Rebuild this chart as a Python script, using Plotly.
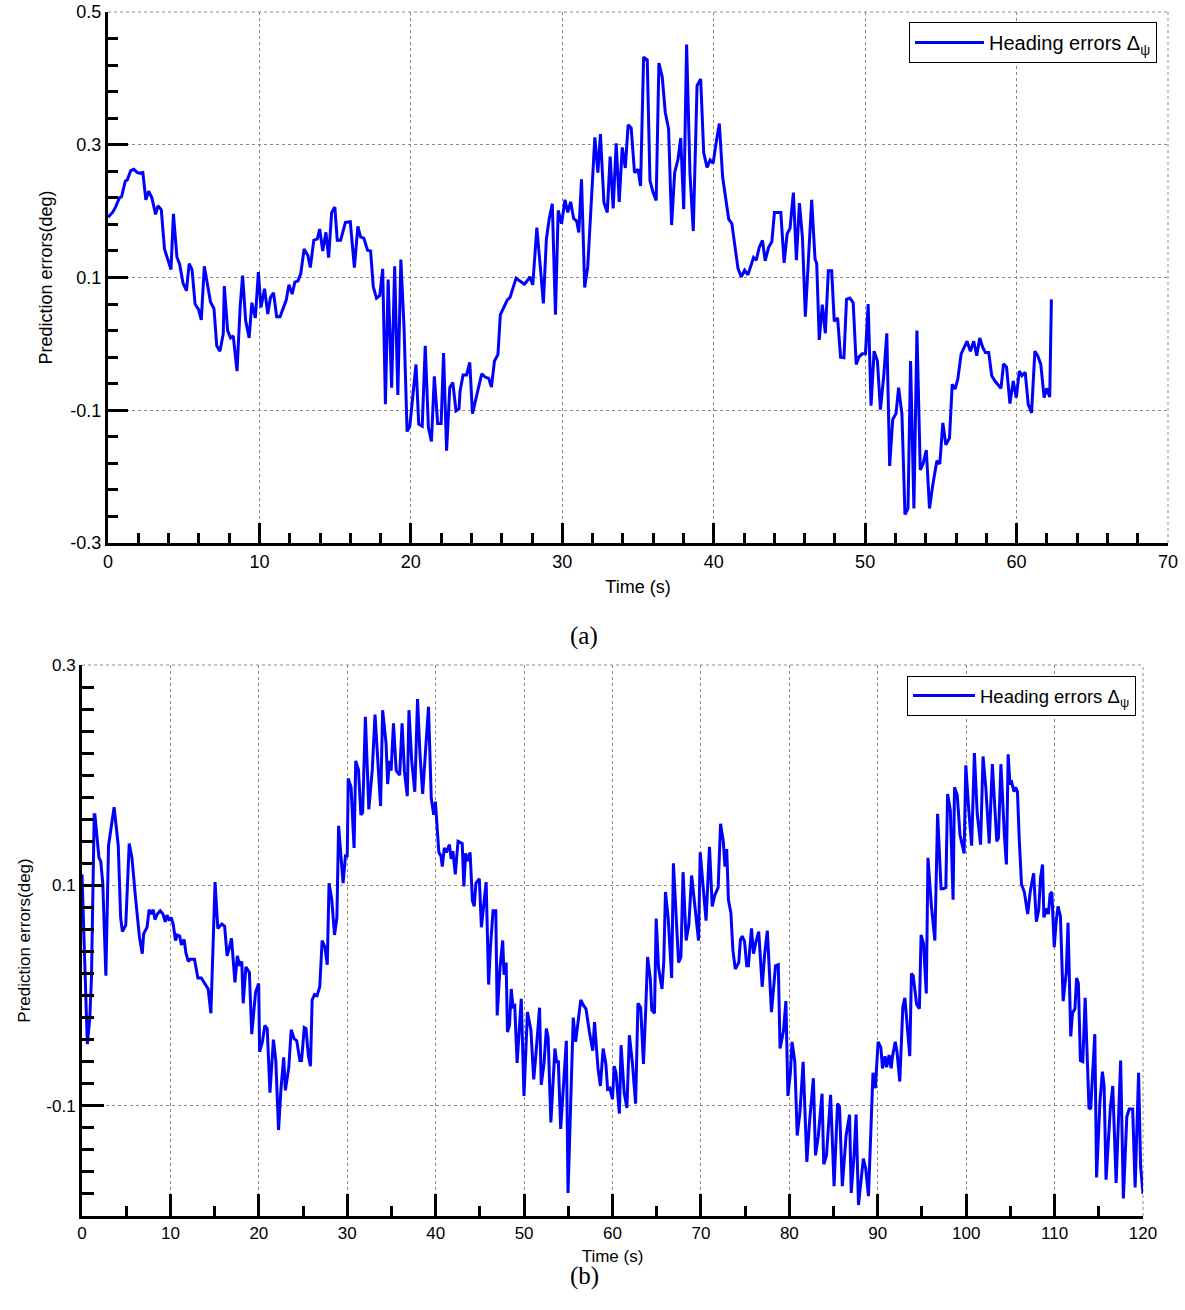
import plotly.graph_objects as go

# ---------------- data: panel (a) ----------------
time_a = [0, 0.3, 0.5, 0.75, 0.9, 1.14, 1.27, 1.5, 1.7, 1.95, 2.1, 2.3, 2.5, 2.68, 2.9, 3.14, 3.3, 3.52,
          3.73, 3.93, 4.16, 4.32, 4.55, 4.73, 4.95, 5.18, 5.36, 5.55, 5.75, 5.98, 6.16, 6.36, 6.59, 6.77,
          7.0, 7.18, 7.39, 7.61, 7.68, 7.9, 8.09, 8.27, 8.52, 8.73, 8.89, 9.09, 9.32, 9.5, 9.73, 9.93,
          10.1, 10.34, 10.55, 10.73, 10.93, 11.14, 11.36, 11.77, 11.95, 12.16, 12.34, 12.55, 12.73, 12.95,
          13.2, 13.36, 13.59, 13.82, 13.98, 14.18, 14.39, 14.57, 14.77, 14.98, 15.14, 15.36, 15.68, 16.0,
          16.27, 16.5, 16.68, 16.9, 17.14, 17.34, 17.52, 17.73, 17.95, 18.14, 18.32, 18.5, 18.73, 18.93,
          19.14, 19.34, 19.55, 19.75, 19.93, 20.14, 20.34, 20.52, 20.75, 20.95, 21.16, 21.36, 21.55, 21.77,
          22.0, 22.16, 22.36, 22.57, 22.77, 22.98, 23.18, 23.25, 23.45, 23.68, 23.89, 24.07, 24.27, 24.68,
          24.91, 25.14, 25.32, 25.52, 25.75, 25.91, 26.14, 26.36, 26.55, 26.77, 26.95, 27.18, 27.5, 27.68,
          27.86, 28.05, 28.32, 28.59, 28.75, 28.95, 29.14, 29.34, 29.55, 29.73, 29.95, 30.18, 30.36, 30.55,
          30.75, 30.95, 31.09, 31.27, 31.48, 31.68, 31.89, 32.15, 32.35, 32.52, 32.75, 32.97, 33.16, 33.36,
          33.56, 33.76, 33.96, 34.16, 34.35, 34.55, 34.77, 35.0, 35.17, 35.37, 35.61, 35.79, 36.0, 36.2,
          36.38, 36.6, 36.8, 37.02, 37.22, 37.42, 37.64, 37.82, 38.02, 38.21, 38.43, 38.65, 38.9, 39.14,
          39.34, 39.56, 39.76, 39.96, 40.18, 40.37, 40.59, 40.99, 41.2, 41.43, 41.6, 41.82, 42.04, 42.26,
          42.63, 42.81, 43.0, 43.22, 43.4, 43.62, 43.84, 44.01, 44.43, 44.65, 44.85, 45.04, 45.26, 45.46,
          45.66, 45.86, 46.05, 46.25, 46.47, 46.69, 46.8, 46.97, 47.17, 47.37, 47.57, 47.79, 47.96, 48.18,
          48.38, 48.6, 48.77, 48.99, 49.21, 49.41, 49.58, 49.8, 50.02, 50.2, 50.39, 50.59, 50.81, 51.01,
          51.23, 51.43, 51.62, 51.82, 52.04, 52.21, 52.43, 52.63, 52.83, 53.0, 53.22, 53.42, 53.64, 53.82,
          54.04, 54.25, 54.47, 54.74, 54.93, 55.13, 55.33, 55.57, 55.75, 55.94, 56.12, 56.34, 56.56, 56.73,
          56.95, 57.17, 57.37, 57.57, 57.76, 57.94, 58.16, 58.36, 58.57, 58.77, 58.97, 59.14, 59.34, 59.56,
          59.78, 59.98, 60.18, 60.35, 60.57, 60.77, 60.99, 61.21, 61.4, 61.6, 61.82, 61.99, 62.19, 62.3]
err_a = [0.191, 0.198, 0.206, 0.220, 0.222, 0.245, 0.247, 0.261, 0.263, 0.258, 0.257, 0.258, 0.217, 0.230,
         0.220, 0.195, 0.208, 0.202, 0.143, 0.130, 0.112, 0.196, 0.131, 0.120, 0.092, 0.080, 0.121, 0.112,
         0.060, 0.052, 0.036, 0.117, 0.090, 0.063, 0.053, -0.003, -0.011, 0.015, 0.087, 0.020, 0.009, 0.012,
         -0.041, 0.057, 0.103, 0.035, 0.009, 0.062, 0.039, 0.108, 0.055, 0.083, 0.045, 0.070, 0.077, 0.041,
         0.041, 0.066, 0.089, 0.075, 0.093, 0.095, 0.106, 0.143, 0.133, 0.115, 0.156, 0.158, 0.173, 0.140,
         0.168, 0.130, 0.198, 0.206, 0.156, 0.156, 0.183, 0.184, 0.115, 0.177, 0.161, 0.159, 0.141, 0.140,
         0.086, 0.069, 0.073, 0.113, -0.091, 0.097, -0.066, 0.117, -0.077, 0.127, 0.025, -0.132, -0.124,
         -0.077, -0.031, -0.121, -0.124, -0.003, -0.126, -0.147, -0.049, -0.120, -0.120, -0.014, -0.161,
         -0.066, -0.058, -0.101, -0.098, -0.071, -0.047, -0.047, -0.028, -0.105, -0.086, -0.045, -0.050,
         -0.052, -0.065, -0.026, -0.016, 0.044, 0.055, 0.066, 0.070, 0.087, 0.099, 0.095, 0.090, 0.095,
         0.101, 0.089, 0.175, 0.105, 0.061, 0.158, 0.189, 0.211, 0.044, 0.201, 0.181, 0.217, 0.198, 0.214,
         0.189, 0.185, 0.168, 0.248, 0.085, 0.116, 0.206, 0.311, 0.258, 0.316, 0.213, 0.198, 0.282, 0.204,
         0.302, 0.214, 0.296, 0.265, 0.330, 0.325, 0.258, 0.263, 0.238, 0.432, 0.428, 0.246, 0.228, 0.216,
         0.423, 0.402, 0.349, 0.324, 0.179, 0.258, 0.278, 0.310, 0.203, 0.451, 0.258, 0.170, 0.389, 0.399,
         0.288, 0.266, 0.277, 0.272, 0.306, 0.332, 0.251, 0.188, 0.181, 0.145, 0.114, 0.101, 0.111, 0.104,
         0.130, 0.126, 0.145, 0.156, 0.125, 0.145, 0.154, 0.198, 0.198, 0.122, 0.166, 0.174, 0.228, 0.126,
         0.212, 0.160, 0.041, 0.125, 0.217, 0.128, 0.121, 0.006, 0.059, 0.016, 0.110, 0.110, 0.034, 0.039,
         -0.020, -0.021, 0.067, 0.069, 0.062, -0.031, -0.020, -0.015, -0.015, 0.060, -0.093, -0.011, -0.026,
         -0.099, -0.048, 0.016, -0.184, -0.114, -0.105, -0.066, -0.106, -0.257, -0.248, -0.026, -0.248,
         0.020, -0.190, -0.181, -0.160, -0.248, -0.212, -0.176, -0.181, -0.119, -0.152, -0.142, -0.061,
         -0.068, -0.053, -0.015, -0.003, 0.004, -0.011, 0.004, -0.018, 0.009, -0.005, -0.013, -0.013, -0.048,
         -0.056, -0.062, -0.067, -0.030, -0.035, -0.090, -0.056, -0.081, -0.041, -0.048, -0.043, -0.091,
         -0.104, -0.011, -0.018, -0.031, -0.081, -0.067, -0.080, 0.067]

# ---------------- data: panel (b) ----------------
time_b = [0, 0.6, 0.88, 1.07, 1.38, 1.46, 1.92, 2.12, 2.35, 2.7, 3.0, 3.28, 3.63, 4.1, 4.37, 4.57, 4.95,
          5.34, 5.65, 6.04, 6.5, 6.82, 6.97, 7.36, 7.59, 7.83, 8.06, 8.25, 8.52, 8.84, 9.15, 9.42, 9.61,
          9.88, 10.08, 10.31, 10.58, 10.78, 11.05, 11.24, 11.55, 11.75, 12.02, 12.25, 12.72, 13.11, 13.5,
          13.88, 14.27, 14.58, 15.05, 15.36, 15.82, 16.13, 16.41, 16.68, 16.91, 17.3, 17.57, 17.84, 18.07,
          18.23, 18.54, 18.93, 19.2, 19.63, 19.98, 20.09, 20.4, 20.68, 20.95, 21.26, 21.65, 21.92, 22.23,
          22.5, 22.81, 23.0, 23.39, 23.66, 23.98, 24.29, 24.64, 24.83, 25.14, 25.33, 25.61, 25.84, 26.03,
          26.3, 26.58, 26.89, 27.16, 27.47, 27.74, 27.94, 28.25, 28.56, 28.83, 29.02, 29.29, 29.53, 29.8,
          30.0, 30.11, 30.43, 30.77, 30.96, 31.27, 31.54, 31.74, 32.05, 32.44, 32.83, 33.14, 33.45, 33.77,
          34.0, 34.39, 34.57, 34.77, 34.96, 35.23, 35.54, 35.93, 36.2, 36.47, 36.79, 36.98, 37.29, 37.64,
          37.95, 38.22, 38.53, 38.8, 39.19, 39.5, 39.78, 39.97, 40.36, 40.59, 40.75, 40.98, 41.21, 41.56,
          41.75, 41.95, 42.22, 42.53, 43.0, 43.19, 43.39, 43.66, 43.89, 44.16, 44.36, 44.55, 44.94, 45.17,
          45.4, 45.71, 45.99, 46.18, 46.49, 46.8, 46.96, 47.27, 47.58, 47.73, 47.97, 48.12, 48.35, 48.55,
          48.74, 48.94, 49.21, 49.68, 49.99, 50.38, 50.77, 51.09, 51.36, 51.75, 51.94, 52.25, 52.52, 52.72,
          53.03, 53.49, 53.69, 53.87, 54.14, 54.46, 54.78, 54.97, 55.24, 55.56, 55.83, 56.14, 56.41, 56.72,
          57.0, 57.39, 57.77, 57.97, 58.36, 58.63, 58.94, 59.25, 59.45, 59.7, 60.0, 60.19, 60.39, 60.78,
          60.97, 61.32, 61.63, 61.91, 62.26, 62.61, 62.88, 63.19, 63.5, 63.74, 63.97, 64.28, 64.44, 64.75,
          64.94, 65.21, 65.6, 65.8, 65.99, 66.3, 66.69, 66.89, 67.16, 67.47, 67.74, 67.98, 68.33, 68.64,
          68.95, 69.34, 69.73, 69.92, 70.27, 70.58, 70.97, 71.28, 71.56, 71.95, 72.22, 72.53, 72.72, 72.92,
          73.11, 73.39, 73.62, 73.89, 74.28, 74.47, 74.67, 74.94, 75.18, 75.37, 75.72, 75.95, 76.23, 76.54,
          76.93, 77.2, 77.51, 77.98, 78.44, 78.75, 78.95, 79.34, 79.61, 79.84, 80.12, 80.31, 80.62, 80.89,
          81.21, 81.56, 81.98, 82.26, 82.72, 82.96, 83.27, 83.7, 83.89, 84.2, 84.67, 85.06, 85.45, 85.68,
          85.99, 86.42, 86.81, 87.0, 87.32, 87.55, 87.82, 88.37, 88.64, 88.95, 89.46, 89.73, 90.04, 90.35,
          90.54, 90.82, 91.01, 91.28, 91.52, 91.67, 91.98, 92.18, 92.49, 92.84, 93.07, 93.35, 93.62, 93.81,
          94.01, 94.4, 94.71, 94.9, 95.18, 95.49, 95.68, 96.07, 96.46, 96.77, 97.16, 97.43, 97.7, 97.9,
          98.21, 98.52, 98.68, 98.99, 99.3, 99.77, 99.96, 100.27, 100.62, 100.93, 101.25, 101.63, 101.91,
          102.22, 102.61, 102.96, 103.27, 103.46, 103.65, 103.93, 104.32, 104.55, 104.75, 104.94, 105.14,
          105.41, 105.6, 105.8, 105.99, 106.26, 106.58, 106.96, 107.24, 107.63, 107.94, 108.21, 108.41,
          108.64, 108.79, 109.11, 109.3, 109.49, 109.69, 109.96, 110.19, 110.39, 110.66, 110.97, 111.32,
          111.52, 111.83, 112.02, 112.3, 112.49, 112.69, 112.92, 113.19, 113.46, 113.89, 114.08, 114.55,
          114.75, 115.14, 115.41, 115.6, 115.82, 116.3, 116.58, 116.96, 117.28, 117.47, 117.78, 118.17,
          118.44, 118.83, 119.11, 119.5, 119.73, 120.0]
err_b = [0.110, -0.044, -0.021, 0.016, 0.164, 0.164, 0.125, 0.122, 0.102, 0.018, 0.136, 0.151, 0.171,
         0.136, 0.071, 0.058, 0.064, 0.138, 0.125, 0.090, 0.053, 0.038, 0.056, 0.062, 0.078, 0.074, 0.078,
         0.069, 0.074, 0.077, 0.074, 0.067, 0.073, 0.068, 0.071, 0.065, 0.050, 0.055, 0.054, 0.046, 0.051,
         0.039, 0.031, 0.033, 0.033, 0.016, 0.016, 0.011, 0.006, -0.016, 0.103, 0.061, 0.065, 0.063, 0.036,
         0.044, 0.052, 0.012, 0.036, 0.027, 0.031, -0.007, 0.026, 0.021, -0.035, 0.003, 0.011, -0.051,
         -0.042, -0.027, -0.030, -0.088, -0.040, -0.059, -0.122, -0.085, -0.056, -0.086, -0.065, -0.031,
         -0.039, -0.041, -0.059, -0.059, -0.029, -0.030, -0.055, -0.064, -0.004, 0.001, 0.000, 0.008, 0.050,
         0.044, 0.028, 0.102, 0.087, 0.055, 0.071, 0.154, 0.121, 0.102, 0.127, 0.127, 0.197, 0.189, 0.134,
         0.213, 0.205, 0.164, 0.166, 0.253, 0.169, 0.205, 0.255, 0.210, 0.172, 0.259, 0.229, 0.192, 0.213,
         0.204, 0.247, 0.204, 0.200, 0.247, 0.203, 0.181, 0.259, 0.213, 0.185, 0.269, 0.220, 0.183, 0.216,
         0.262, 0.179, 0.164, 0.176, 0.130, 0.127, 0.117, 0.134, 0.130, 0.137, 0.124, 0.131, 0.110, 0.140,
         0.138, 0.099, 0.129, 0.122, 0.130, 0.086, 0.081, 0.102, 0.106, 0.062, 0.079, 0.103, 0.010, 0.042,
         0.077, 0.077, -0.018, 0.025, 0.050, 0.019, 0.030, -0.033, -0.027, 0.006, -0.010, -0.009, -0.061,
         -0.003, -0.091, -0.015, -0.031, -0.076, -0.051, -0.011, -0.081, -0.062, -0.030, -0.038, -0.115,
         -0.048, -0.061, -0.059, -0.121, -0.078, -0.041, -0.179, -0.113, -0.020, -0.042, -0.021, -0.004,
         -0.009, -0.012, -0.033, -0.050, -0.024, -0.066, -0.082, -0.048, -0.062, -0.085, -0.084, -0.094,
         -0.064, -0.070, -0.107, -0.045, -0.088, -0.102, -0.036, -0.062, -0.098, -0.007, -0.011, -0.062,
         -0.016, 0.035, 0.015, -0.013, -0.016, 0.070, 0.025, 0.006, 0.031, 0.094, 0.070, 0.016, 0.120,
         0.078, 0.030, 0.035, 0.112, 0.050, 0.065, 0.109, 0.081, 0.050, 0.130, 0.096, 0.068, 0.135, 0.081,
         0.091, 0.098, 0.156, 0.140, 0.117, 0.133, 0.087, 0.075, 0.041, 0.024, 0.030, 0.051, 0.054, 0.049,
         0.027, 0.027, 0.061, 0.038, 0.049, 0.058, 0.008, 0.037, 0.059, -0.015, 0.027, 0.028, -0.048,
         -0.032, -0.005, -0.091, -0.070, -0.042, -0.060, -0.127, -0.105, -0.060, -0.151, -0.117, -0.075,
         -0.145, -0.128, -0.089, -0.153, -0.145, -0.090, -0.173, -0.098, -0.101, -0.173, -0.127, -0.108,
         -0.179, -0.145, -0.108, -0.190, -0.148, -0.157, -0.182, -0.070, -0.084, -0.042, -0.047, -0.066,
         -0.055, -0.065, -0.054, -0.066, -0.055, -0.042, -0.051, -0.078, -0.010, -0.002, -0.031, -0.055,
         0.020, 0.018, -0.008, -0.012, 0.055, 0.047, 0.002, 0.125, 0.081, 0.050, 0.165, 0.097, 0.097, 0.098,
         0.183, 0.168, 0.087, 0.189, 0.182, 0.146, 0.129, 0.209, 0.171, 0.136, 0.220, 0.165, 0.137, 0.217,
         0.189, 0.138, 0.210, 0.168, 0.140, 0.143, 0.210, 0.146, 0.119, 0.219, 0.193, 0.194, 0.185, 0.189,
         0.185, 0.144, 0.101, 0.094, 0.074, 0.094, 0.111, 0.067, 0.078, 0.107, 0.119, 0.071, 0.079, 0.074,
         0.092, 0.094, 0.044, 0.068, 0.081, 0.072, -0.005, 0.021, 0.066, -0.037, -0.016, -0.012, 0.016,
         0.011, -0.059, -0.060, -0.002, -0.102, -0.103, -0.035, -0.165, -0.095, -0.069, -0.082, -0.167,
         -0.103, -0.082, -0.170, -0.097, -0.059, -0.184, -0.110, -0.103, -0.103, -0.174, -0.070, -0.155,
         -0.180]

# tick labels
xticks_a = [0, 10, 20, 30, 40, 50, 60, 70]
yticks_a = [-0.3, -0.1, 0.1, 0.3, 0.5]
xticks_b = [0, 10, 20, 30, 40, 50, 60, 70, 80, 90, 100, 110, 120]
yticks_b = [-0.1, 0.1, 0.3]

W, H = 1185, 1310
FONT = "Liberation Sans, Arial, sans-serif"
BLUE = "#0000FF"
GRID = "#8a8a8a"

fig = go.Figure()
fig.add_trace(go.Scatter(x=time_a, y=err_a, mode="lines", line=dict(color=BLUE, width=3),
                         name="Heading errors Δ<sub>ψ</sub>", xaxis="x", yaxis="y", legend="legend"))
fig.add_trace(go.Scatter(x=time_b, y=err_b, mode="lines", line=dict(color=BLUE, width=3),
                         name="Heading errors Δ<sub>ψ</sub>", xaxis="x2", yaxis="y2", legend="legend2"))


def xa(px0, px1):
    return [px0 / W, px1 / W]


def ya(py_top, py_bot):
    return [1 - py_bot / H, 1 - py_top / H]


common = dict(showline=True, linecolor="black", linewidth=3, ticks="inside", tickcolor="black",
              tickwidth=3, showgrid=True, gridcolor=GRID, griddash="dot", gridwidth=1,
              zeroline=False, automargin=False, tickfont=dict(family=FONT, size=18, color="black"))

fig.update_layout(
    width=W, height=H, margin=dict(l=0, r=0, t=0, b=0),
    paper_bgcolor="white", plot_bgcolor="white",
    font=dict(family=FONT, color="black"),
    xaxis=dict(common, domain=xa(108, 1168), anchor="y", range=[0, 70], tickmode="array",
               tickvals=xticks_a, ticktext=[str(v) for v in xticks_a], ticklen=20,
               minor=dict(ticks="inside", ticklen=10, tickwidth=3, tickcolor="black", dtick=2, tick0=0,
                          showgrid=False),
               title=dict(text="Time (s)", font=dict(family=FONT, size=18), standoff=10)),
    yaxis=dict(common, domain=ya(12, 543), anchor="x", range=[-0.3, 0.5], tickmode="array",
               tickvals=yticks_a, ticktext=["-0.3", "-0.1", "0.1", "0.3", "0.5"], ticklen=20,
               minor=dict(ticks="inside", ticklen=10, tickwidth=3, tickcolor="black", dtick=0.04,
                          tick0=-0.3, showgrid=False),
               title=dict(text="Prediction errors(deg)", font=dict(family=FONT, size=18), standoff=14)),
    xaxis2=dict(common, domain=xa(82, 1143), anchor="y2", range=[0, 120], tickmode="array",
                tickvals=xticks_b, ticktext=[str(v) for v in xticks_b], ticklen=22,
                tickfont=dict(family=FONT, size=17, color="black"),
                minor=dict(ticks="inside", ticklen=10, tickwidth=3, tickcolor="black", dtick=5, tick0=0,
                           showgrid=False),
                title=dict(text="Time (s)", font=dict(family=FONT, size=17), standoff=8)),
    yaxis2=dict(common, domain=ya(665, 1216), anchor="x2", range=[-0.2, 0.3], tickmode="array",
                tickvals=yticks_b, ticktext=["-0.1", "0.1", "0.3"], ticklen=22,
                tickfont=dict(family=FONT, size=17, color="black"),
                minor=dict(ticks="inside", ticklen=12, tickwidth=3, tickcolor="black", dtick=0.02,
                           tick0=-0.2, showgrid=False),
                title=dict(text="Prediction errors(deg)", font=dict(family=FONT, size=17), standoff=12)),
    legend=dict(x=909 / W, y=1 - 22 / H, xanchor="left", yanchor="top", bgcolor="white",
                bordercolor="black", borderwidth=1, itemwidth=69,
                font=dict(family=FONT, size=20, color="black")),
    legend2=dict(x=907 / W, y=1 - 676 / H, xanchor="left", yanchor="top", bgcolor="white",
                 bordercolor="black", borderwidth=1, itemwidth=62,
                 font=dict(family=FONT, size=18.5, color="black")),
    showlegend=True,
)

# dotted top and right frame lines (grid at range ends)
for xr, yr in (("x", "y"), ("x2", "y2")):
    fig.add_shape(type="line", xref=f"{xr} domain", yref=f"{yr} domain", x0=0, x1=1, y0=1, y1=1,
                  line=dict(color=GRID, width=1, dash="dot"), layer="below")
    fig.add_shape(type="line", xref=f"{xr} domain", yref=f"{yr} domain", x0=1, x1=1, y0=0, y1=1,
                  line=dict(color=GRID, width=1, dash="dot"), layer="below")

# captions
fig.add_annotation(text="(a)", x=584 / W, y=1 - 636 / H, xref="paper", yref="paper", showarrow=False,
                   font=dict(family="Liberation Serif, Times New Roman, serif", size=25, color="black"))
fig.add_annotation(text="(b)", x=584 / W, y=1 - 1292 / H, xref="paper", yref="paper", showarrow=False,
                   font=dict(family="Liberation Serif, Times New Roman, serif", size=25, color="black"))

fig.write_html("out.html")
